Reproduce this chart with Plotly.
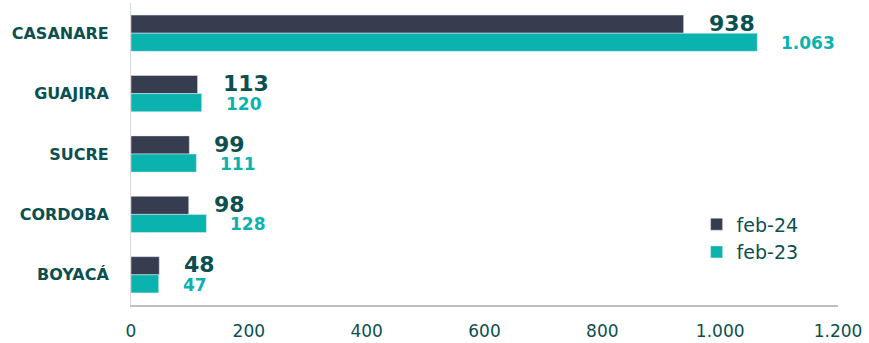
import plotly.graph_objects as go

categorias = ["CASANARE", "GUAJIRA", "SUCRE", "CORDOBA", "BOYACÁ"]
feb_24 = [938, 113, 99, 98, 48]
feb_23 = [1063, 120, 111, 128, 47]
ticks_x = [0, 200, 400, 600, 800, 1000, 1200]

verde_oscuro = "#0b4f50"
teal = "#0ab3ad"
gris = "#363d4f"
fuente = "DejaVu Sans"


def fmt(v):
    return f"{v:,}".replace(",", ".")


fig = go.Figure()
fig.add_trace(go.Bar(
    y=categorias, x=feb_24, name="feb-24", orientation="h",
    marker_color=gris,
))
fig.add_trace(go.Bar(
    y=categorias, x=feb_23, name="feb-23", orientation="h",
    marker_color=teal,
))

# etiquetas de datos (desplazadas fuera de la barra)
for cat, v in zip(categorias, feb_24):
    fig.add_annotation(x=v, y=cat, text=f"<b>{fmt(v)}</b>", showarrow=False,
                       xanchor="left", xshift=23, yshift=10,
                       font=dict(family=fuente, size=22, color=verde_oscuro))
for cat, v in zip(categorias, feb_23):
    fig.add_annotation(x=v, y=cat, text=f"<b>{fmt(v)}</b>", showarrow=False,
                       xanchor="left", xshift=22, yshift=-10,
                       font=dict(family=fuente, size=17, color=teal))

fig.update_layout(
    width=869, height=343,
    barmode="group", bargap=0.4, bargroupgap=0,
    separators=",.",
    plot_bgcolor="white", paper_bgcolor="white",
    margin=dict(l=131, r=31, t=3, b=38),
    font=dict(family=fuente, color=verde_oscuro),
    showlegend=True,
    legend=dict(
        x=0.8, y=0.33, xanchor="left", yanchor="top",
        traceorder="normal",
        font=dict(family=fuente, size=19, color=verde_oscuro),
        itemwidth=30,
    ),
)
fig.update_xaxes(
    range=[0, 1200], tickvals=ticks_x, tickformat=",d",
    showgrid=False, zeroline=False,
    showline=True, linecolor="#bfbfbf", linewidth=2,
    tickfont=dict(size=17, color=verde_oscuro),
    ticks="", ticklabelstandoff=10,
)
fig.update_yaxes(
    autorange="reversed",
    showgrid=False, showline=True, linecolor="#d9d9d9", linewidth=1,
    tickfont=dict(size=16, color=verde_oscuro, family=fuente),
    ticks="", ticklabelstandoff=18,
    tickvals=categorias, ticktext=[f"<b>{c}</b>" for c in categorias],
)

fig.write_html("out.html", config={"displayModeBar": False},
               post_script="document.body.style.margin='0';")
